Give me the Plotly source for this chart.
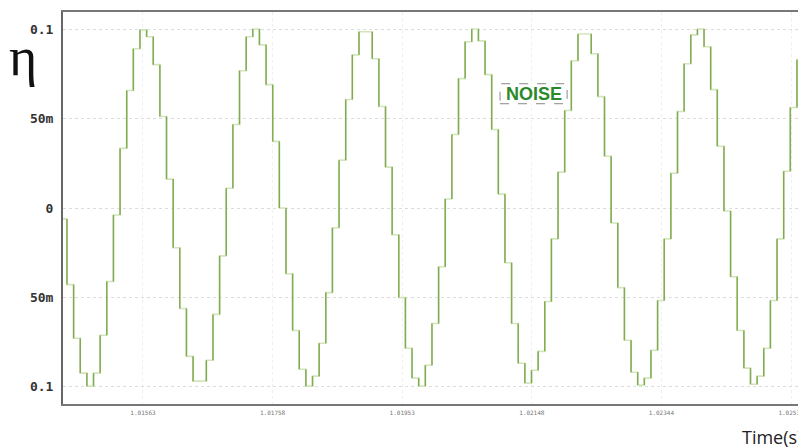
import plotly.graph_objects as go

# ---------------- data ----------------
# sample-and-hold signal: one held value per 0.1 ms sample (values in mV)
sample_start = 1.01438      # s, start of the first (partially visible) sample
sample_dt = 0.0001          # s
values_mV = [
    -6.1, -42.9, -73.0, -92.5, -99.8, -92.5, -71.3, -41.2, -3.9, 33.4,
    65.8, 89.2, 99.8, 95.9, 80.3, 51.3, 16.2, -22.3, -56.3, -83.1,
    -97.0, -97.0, -85.3, -59.6, -26.8, 11.1, 46.8, 76.9, 95.9, 100.3,
    91.4, 69.1, 37.3, 0.0, -36.8, -68.6, -90.3, -99.8, -94.2, -75.8,
    -47.4, -11.1, 26.8, 60.8, 85.8, 98.7, 98.7, 83.6, 56.9, 22.9,
    -15.0, -50.2, -78.6, -95.3, -99.8, -88.1, -64.7, -32.9, 5.0, 41.2,
    72.5, 93.1, 100.3, 93.6, 74.7, 44.0, 7.8, -30.7, -64.7, -87.0,
    -98.1, -90.9, -80.3, -52.4, -17.3, 20.1, 54.6, 82.5, 97.5, 97.5,
    86.4, 62.4, 29.0, -8.4, -44.6, -74.1, -92.0, -99.2, -95.3, -79.7,
    -51.8, -17.3, 19.5, 54.1, 80.8, 97.0, 100.3, 90.3, 66.3, 34.6,
    -1.7, -38.5, -68.6, -89.7, -98.7, -94.2, -78.6, -51.8, -17.3, 20.6,
    56.3, 83.1,
]

x_tick_vals = [1.015625, 1.017578125, 1.01953125, 1.021484375, 1.0234375, 1.025390625]
x_tick_text = ["1.01563", "1.01758", "1.01953", "1.02148", "1.02344", "1.02539"]
y_tick_vals = [0.1, 0.05, 0.0, -0.05, -0.1]
y_tick_text = ["0.1", "50m", "0", "50m", "0.1"]

x_range = [1.01442, 1.025526]
y_range = [-0.1098, 0.1098]

# ---------------- build ----------------
values = [v / 1000.0 for v in values_mV]
times = [sample_start + k * sample_dt for k in range(len(values))]
step_x = times + [times[-1] + sample_dt]
step_y = values + [values[-1]]

vx, vy = [], []
for k in range(1, len(values)):
    vx += [times[k], times[k], None]
    vy += [values[k - 1], values[k], None]

fig = go.Figure()
fig.add_trace(go.Scatter(x=step_x, y=step_y, mode="lines", line_shape="hv",
                         line=dict(color="#d2e6ba", width=1.6), hoverinfo="skip",
                         showlegend=False))
fig.add_trace(go.Scatter(x=vx, y=vy, mode="lines",
                         line=dict(color="#80ab52", width=1.5), hoverinfo="skip",
                         showlegend=False))

# page body adds an 8px offset, so the figure is sized to fill the rest of the window
fig.update_layout(
    width=798, height=440,
    margin=dict(l=55, r=6, t=2, b=44),
    paper_bgcolor="white", plot_bgcolor="white",
    xaxis=dict(range=x_range, tickvals=x_tick_vals, ticktext=x_tick_text,
               tickfont=dict(family="DejaVu Sans Mono", size=6, color="#777"),
               showgrid=True, gridcolor="#efefef", griddash="dot", gridwidth=1,
               showline=True, linecolor="#777", linewidth=2, mirror=True,
               zeroline=False, ticks="", ticklabelstandoff=2),
    yaxis=dict(range=y_range, tickvals=y_tick_vals, ticktext=y_tick_text,
               tickfont=dict(family="DejaVu Sans Mono", size=13, color="#333", weight="bold"),
               showgrid=True, gridcolor="#dddddd", griddash="dot", gridwidth=1,
               showline=True, linecolor="#666", linewidth=2, mirror=True,
               zeroline=False, ticks="", ticklabelstandoff=5),
)

fig.add_annotation(text="η", xref="paper", yref="paper", x=-0.054, y=0.885,
                   xanchor="center", yanchor="middle", showarrow=False,
                   font=dict(family="Liberation Serif", size=54, color="#111"))
fig.add_annotation(text="Time(s)", xref="paper", yref="paper", x=1.006, y=-0.084,
                   xanchor="right", yanchor="middle", showarrow=False,
                   font=dict(family="Open Sans", size=18, color="#222"))

fig.add_shape(type="rect", xref="paper", yref="paper",
              x0=0.593, x1=0.684, y0=0.766, y1=0.817,
              line=dict(color="#888", width=1, dash="dash"), fillcolor="white",
              layer="above")
fig.add_annotation(text="<b>NOISE</b>", xref="paper", yref="paper", x=0.6385, y=0.7915,
                   xanchor="center", yanchor="middle", showarrow=False,
                   font=dict(family="Liberation Sans", size=18, color="#2a8a2a"))

fig.write_html("out.html")
